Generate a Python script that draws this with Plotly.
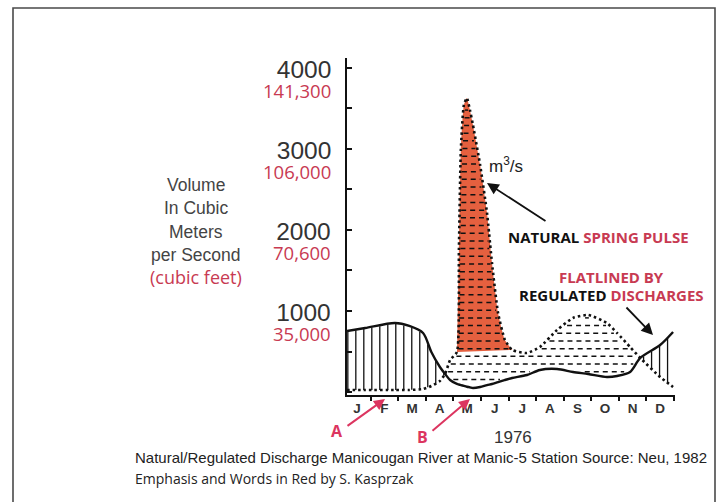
import numpy as np
import plotly.graph_objects as go

# ---------------- data ----------------
MONTHS = [0.14, 0.8, 1.88, 2.4, 2.9, 3.2, 3.51, 3.7, 3.88, 4.13, 4.2, 4.27, 4.38, 4.49, 4.6,
          4.71, 4.97, 5.22, 5.4, 5.62, 5.87, 6.13, 6.67, 7.14, 7.76, 8.34, 8.89, 9.57, 9.94,
          10.41, 10.78, 11.5, 11.97]
NATURAL = [25, 25, 25, 25, 37, 74, 136, 222, 395, 494, 1753, 2988, 3543, 3630, 3481,
           3296, 2802, 2210, 1593, 975, 642, 519, 481, 556, 765, 914, 951, 852, 728,
           556, 420, 185, 62]
REGULATED = [753, 790, 852, 815, 728, 494, 309, 222, 148, 99, 93, 86, 75, 65, 58,
             49, 62, 86, 99, 123, 148, 173, 210, 272, 284, 247, 222, 185, 198,
             247, 420, 580, 741]
PULSE_START, PULSE_END = 4.13, 6.13          # red "spring pulse" portion

MONTH_LABELS = ["J", "F", "M", "A", "M", "J", "J", "A", "S", "O", "N", "D"]
MONTH_POS = [i + 0.5 for i in range(12)]
Y_TICKS_M3 = [1000, 2000, 3000, 4000]
Y_TICKS_CFS = ["35,000", "70,600", "106,000", "141,300"]
YEAR = "1976"

# ---------------- layout geometry ----------------
W, H = 721, 502
PL, PR, PT, PB = 347, 675, 58, 395
RED = "#c83a52"
PULSE_RED = "#e5603f"
ARROW_RED = "#dc3560"


def px_x(px):
    return (px - PL) / (PR - PL)


def px_y(py):
    return (PB - py) / (PB - PT)


months = np.array(MONTHS)
nat = np.array(NATURAL, dtype=float)
reg = np.array(REGULATED, dtype=float)

fig = go.Figure()

# vertical hatching where regulated > natural
fine = np.linspace(months[0], months[-1], 4000)
nf = np.interp(fine, months, nat)
rf = np.interp(fine, months, reg)
vx, vy = [], []
for xv in np.arange(months[0] + 0.03, months[-1] + 0.01, 0.29):
    n = np.interp(xv, months, nat)
    r = np.interp(xv, months, reg)
    if r - n > 25:
        vx += [xv, xv, None]
        vy += [n, r - 8, None]
fig.add_trace(go.Scatter(x=vx, y=vy, mode="lines", line=dict(color="#111", width=1.3),
                         hoverinfo="skip", showlegend=False))

# red spring pulse
mask = (months >= PULSE_START) & (months <= PULSE_END)
fig.add_trace(go.Scatter(x=months[mask], y=nat[mask], mode="lines", fill="toself",
                         fillcolor=PULSE_RED, line=dict(width=0, shape="spline", smoothing=0.5),
                         hoverinfo="skip", showlegend=False))

# horizontal dashed hatching where natural > regulated
hx, hy = [], []
for lvl in np.arange(60, nat.max(), 95):
    inside = (nf > lvl + 25) & (rf < lvl - 20)
    edges = np.flatnonzero(np.diff(np.concatenate([[0], inside.astype(int), [0]])))
    for s, e in zip(edges[::2], edges[1::2]):
        a, b = fine[s] + 0.05, fine[e - 1] - 0.05
        if b - a > 0.08:
            hx += [a, b, None]
            hy += [lvl, lvl, None]
fig.add_trace(go.Scatter(x=hx, y=hy, mode="lines",
                         line=dict(color="#111", width=1.5, dash="5px,4px"),
                         hoverinfo="skip", showlegend=False))

# natural (dotted) and regulated (solid) curves
fig.add_trace(go.Scatter(x=MONTHS, y=NATURAL, mode="lines", name="Natural",
                         line=dict(color="#111", width=2.6, dash="2.5px,3px",
                                   shape="spline", smoothing=0.5),
                         showlegend=False))
fig.add_trace(go.Scatter(x=MONTHS, y=REGULATED, mode="lines", name="Regulated",
                         line=dict(color="#111", width=2.4, shape="spline", smoothing=0.8),
                         showlegend=False))

ann = []
# y tick labels (m3/s above, cfs below in red) -- one text block per tick
for v, c in zip(Y_TICKS_M3, Y_TICKS_CFS):
    ann.append(dict(x=px_x(333), xref="paper", y=v, yref="y", yshift=-12,
                    text="<span style='font-size:24.5px;color:#333'>%d</span><br>"
                         "<span style='font-size:18.5px;color:%s;font-family:Open Sans'>%s</span>"
                         % (v, RED, c),
                    xanchor="right", yanchor="middle", align="right", showarrow=False,
                    font=dict(family="Liberation Sans", size=15.5, color="#333")))

# left axis title
for txt, py, col, fam, sz in [("Volume", 185, "#444", "Liberation Sans", 17.5),
                              ("In Cubic", 208, "#444", "Liberation Sans", 17.5),
                              ("Meters", 232, "#444", "Liberation Sans", 17.5),
                              ("per Second", 255, "#444", "Liberation Sans", 17.5),
                              ("(cubic feet)", 277, RED, "Open Sans", 18)]:
    ann.append(dict(x=px_x(196), y=px_y(py), xref="paper", yref="paper", text=txt,
                    xanchor="center", yanchor="middle", showarrow=False,
                    font=dict(family=fam, size=sz, color=col)))

# units
ann.append(dict(x=px_x(487), y=px_y(165), xref="paper", yref="paper", text="m<sup>3</sup>/s",
                xanchor="left", yanchor="middle", showarrow=False,
                font=dict(family="Liberation Sans", size=17, color="#222")))

# right callouts
bold = dict(family="Open Sans", size=15, color="#111")
ann.append(dict(x=px_x(598), y=px_y(237), xref="paper", yref="paper",
                text="<b>NATURAL <span style='color:%s'>SPRING PULSE</span></b>" % RED,
                xanchor="center", yanchor="middle", showarrow=False, font=bold))
ann.append(dict(x=px_x(611), y=px_y(277), xref="paper", yref="paper",
                text="<b><span style='color:%s'>FLATLINED BY</span></b>" % RED,
                xanchor="center", yanchor="middle", showarrow=False, font=bold))
ann.append(dict(x=px_x(611), y=px_y(295), xref="paper", yref="paper",
                text="<b>REGULATED <span style='color:%s'>DISCHARGES</span></b>" % RED,
                xanchor="center", yanchor="middle", showarrow=False, font=bold))

# black arrows
ann.append(dict(x=px_x(487), y=px_y(183), xref="paper", yref="paper", text="",
                showarrow=True, ax=60, ay=39, arrowhead=2, arrowsize=1.3, arrowwidth=1.8,
                arrowcolor="#111"))
ann.append(dict(x=px_x(653), y=px_y(335), xref="paper", yref="paper", text="",
                showarrow=True, ax=-28, ay=-29, arrowhead=2, arrowsize=1.3, arrowwidth=1.8,
                arrowcolor="#111"))

# red A / B arrows
for lab, lx, ly, hx_, hy_, tx, ty in [("A", 337, 431, 385, 399, 346, 427),
                                      ("B", 422, 437, 470, 399, 431, 432)]:
    ann.append(dict(x=px_x(lx), y=px_y(ly), xref="paper", yref="paper", text="<b>%s</b>" % lab,
                    xanchor="center", yanchor="middle", showarrow=False,
                    font=dict(family="Open Sans", size=16, color=ARROW_RED)))
    ann.append(dict(x=px_x(hx_), y=px_y(hy_), xref="paper", yref="paper", text="",
                    showarrow=True, ax=tx - hx_, ay=ty - hy_, arrowhead=2, arrowsize=1.1,
                    arrowwidth=2, arrowcolor=ARROW_RED))

# year
ann.append(dict(x=px_x(513), y=px_y(437), xref="paper", yref="paper", text=YEAR,
                xanchor="center", yanchor="middle", showarrow=False,
                font=dict(family="Liberation Sans", size=17, color="#333")))

# caption
ann.append(dict(x=px_x(133), y=px_y(458), xref="paper", yref="paper",
                text="Natural/Regulated Discharge Manicougan River at Manic-5 Station Source: Neu, 1982",
                xanchor="left", yanchor="middle", showarrow=False,
                font=dict(family="Liberation Sans", size=15, color="#222")))
ann.append(dict(x=px_x(133), y=px_y(478), xref="paper", yref="paper",
                text="Emphasis and Words in Red by S. Kasprzak",
                xanchor="left", yanchor="middle", showarrow=False,
                font=dict(family="Open Sans", size=14, color="#222")))

# outer frame
shapes = [dict(type="rect", xref="paper", yref="paper",
               x0=px_x(13), x1=px_x(715), y0=px_y(520), y1=px_y(8),
               line=dict(color="#4a4a4a", width=1.6), fillcolor="rgba(0,0,0,0)", layer="below")]

fig.update_layout(
    width=W, height=H,
    margin=dict(l=PL, r=W - PR, t=PT, b=H - PB, pad=0),
    paper_bgcolor="white", plot_bgcolor="white",
    annotations=ann, shapes=shapes,
    xaxis=dict(range=[0.14, 12.04], tickmode="array", tickvals=MONTH_POS, ticktext=MONTH_LABELS,
               ticks="", showgrid=False, zeroline=False, showline=True, linecolor="#111",
               linewidth=2.2, ticklabelstandoff=0,
               tickfont=dict(family="Liberation Sans", size=13.5, color="#333", weight="bold"),
               minor=dict(tickmode="array", tickvals=list(range(1, 13)), ticks="outside",
                          ticklen=4, tickwidth=1.5, tickcolor="#111"),
               fixedrange=True),
    yaxis=dict(range=[-37, 4123], tickmode="linear", tick0=0, dtick=500, ticks="inside",
               ticklen=5, tickwidth=1.6, tickcolor="#111", showticklabels=False,
               showgrid=False, zeroline=False, showline=True, linecolor="#111", linewidth=2.2,
               fixedrange=True),
)

fig.write_html("out.html", config={"displayModeBar": False},
               post_script="document.body.style.margin='0';")
